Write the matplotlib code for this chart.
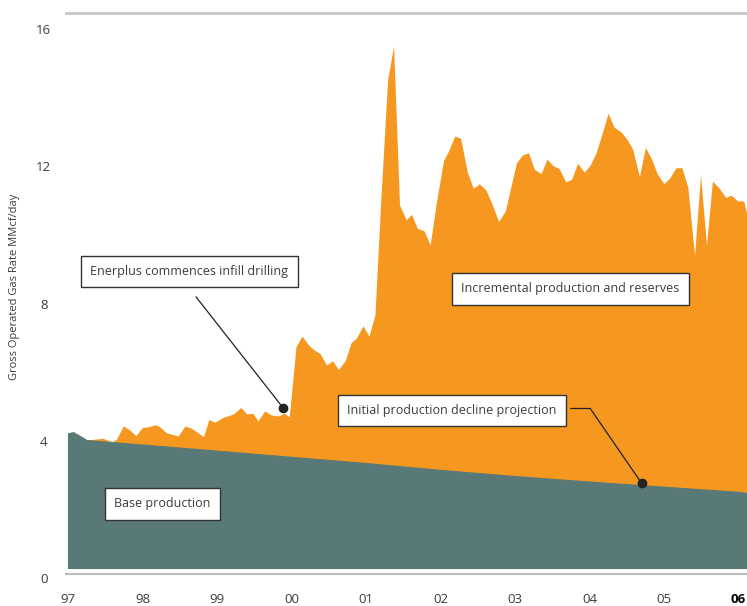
import matplotlib.pyplot as plt
from matplotlib.transforms import ScaledTranslation

# years since Jan 1997
total_years = [0.00, 0.07, 0.16, 0.25, 0.37, 0.47, 0.59, 0.65, 0.74, 0.82, 0.91,
               1.00, 1.09, 1.17, 1.23, 1.32, 1.48, 1.57, 1.66, 1.82, 1.89, 1.97,
               2.08, 2.22, 2.32, 2.40, 2.48, 2.55, 2.64, 2.73, 2.82, 2.90, 2.97,
               3.06, 3.14, 3.23, 3.30, 3.38, 3.47, 3.55, 3.63, 3.72, 3.80, 3.87,
               3.96, 4.04, 4.12, 4.20, 4.29, 4.37, 4.45, 4.54, 4.61, 4.69, 4.78,
               4.86, 4.95, 5.04, 5.11, 5.19, 5.27, 5.36, 5.44, 5.52, 5.61, 5.69,
               5.78, 5.87, 5.94, 6.02, 6.10, 6.18, 6.26, 6.35, 6.43, 6.51, 6.59,
               6.68, 6.76, 6.84, 6.93, 7.01, 7.09, 7.17, 7.25, 7.33, 7.42, 7.50,
               7.58, 7.67, 7.75, 7.83, 7.91, 8.00, 8.08, 8.16, 8.24, 8.32, 8.41,
               8.49, 8.57, 8.65, 8.74, 8.83, 8.90, 8.99, 9.07, 9.11]
total_rate = [3.93, 3.96, 3.86, 3.73, 3.76, 3.78, 3.68, 3.75, 4.14, 4.04, 3.86,
              4.10, 4.12, 4.18, 4.12, 3.94, 3.85, 4.14, 4.07, 3.83, 4.33, 4.25,
              4.39, 4.49, 4.68, 4.49, 4.51, 4.29, 4.58, 4.46, 4.43, 4.51, 4.41,
              6.45, 6.76, 6.50, 6.36, 6.26, 5.92, 6.04, 5.79, 6.04, 6.57, 6.70,
              7.06, 6.76, 7.38, 10.80, 14.23, 15.22, 10.58, 10.15, 10.31, 9.90, 9.83,
              9.42, 10.73, 11.87, 12.17, 12.59, 12.53, 11.54, 11.07, 11.20, 11.02, 10.62,
              10.10, 10.41, 11.07, 11.82, 12.04, 12.11, 11.62, 11.50, 11.92, 11.73, 11.65,
              11.26, 11.33, 11.80, 11.54, 11.75, 12.12, 12.67, 13.26, 12.85, 12.72, 12.51,
              12.21, 11.41, 12.26, 11.94, 11.49, 11.20, 11.38, 11.67, 11.67, 11.10, 9.11,
              11.46, 9.42, 11.28, 11.07, 10.80, 10.87, 10.70, 10.70, 10.34]

base_years = [0.00, 0.07, 0.25, 1.0, 2.0, 3.0, 4.0, 5.0, 6.0, 7.0, 8.0, 9.0, 9.11]
base_rate = [3.93, 3.96, 3.73, 3.60, 3.42, 3.24, 3.06, 2.86, 2.68, 2.52, 2.37, 2.22, 2.19]

year_ticks = [0, 1, 2, 3, 4, 5, 6, 7, 8, 9]
year_labels = ["97", "98", "99", "00", "01", "02", "03", "04", "05", "06"]
rate_ticks = [0, 4, 8, 12, 16]

ORANGE = "#F6981F"
TEAL = "#587978"
TEXT = "#3c3c3c"

plt.rcParams["font.family"] = ["Open Sans", "DejaVu Sans"]

fig = plt.figure(figsize=(7.47, 6.06), dpi=100)
ax = fig.add_axes([66 / 747, 32 / 606, 681 / 747, 561 / 606])

ax.fill_between(total_years, 0, total_rate, color=ORANGE, lw=0)
ax.fill_between(base_years, 0, base_rate, facecolor=TEAL, edgecolor=TEAL, lw=0.8)

ax.set_xlim(-0.027, 9.114)
ax.set_ylim(-0.175, 16.18)

for side in ["left", "right"]:
    ax.spines[side].set_visible(False)
ax.spines["top"].set_color("#c6c6c6")
ax.spines["top"].set_linewidth(2)
ax.spines["bottom"].set_color("#bdbdbd")
ax.spines["bottom"].set_linewidth(1.5)

ax.set_xticks(year_ticks)
ax.set_xticklabels(year_labels, fontsize=9.5, color=TEXT, va="center")
ax.get_xticklabels()[-1].set_fontweight("bold")
ax.get_xticklabels()[-1].set_color("black")
ax.set_yticks(rate_ticks)
ax.set_yticklabels([str(v) for v in rate_ticks], fontsize=9.5, color=TEXT, ha="center")
ax.tick_params(axis="x", length=0, pad=18.5)
ax.tick_params(axis="y", length=0, pad=16)
shift = ScaledTranslation(0, -10 / 100, fig.dpi_scale_trans)
for lab in ax.get_yticklabels():
    lab.set_transform(lab.get_transform() + shift)

fig.text(15 / 747, 1 - 287 / 606, "Gross Operated Gas Rate MMcf/day", rotation=90,
         ha="center", va="center", fontsize=8, color=TEXT)

box = dict(boxstyle="square,pad=0.74", fc="white", ec="#333333", lw=1)


def label(x, y, s):
    ax.text(x, y, s, fontsize=9.0, color=TEXT, ha="center", va="center", bbox=box)


label(1.63, 8.65, "Enerplus commences infill drilling")
label(6.74, 8.14, "Incremental production and reserves")
label(5.15, 4.59, "Initial production decline projection")
label(1.27, 1.87, "Base production")

# leader lines to the marked points
ax.plot([1.72, 2.89], [7.90, 4.66], color="#222222", lw=0.9)
ax.plot([2.89], [4.66], "o", color="#222222", ms=6)
ax.plot([6.75, 7.01, 7.70], [4.65, 4.65, 2.47], color="#222222", lw=0.9)
ax.plot([7.70], [2.47], "o", color="#222222", ms=6)

fig.savefig("out.png", dpi=100)
